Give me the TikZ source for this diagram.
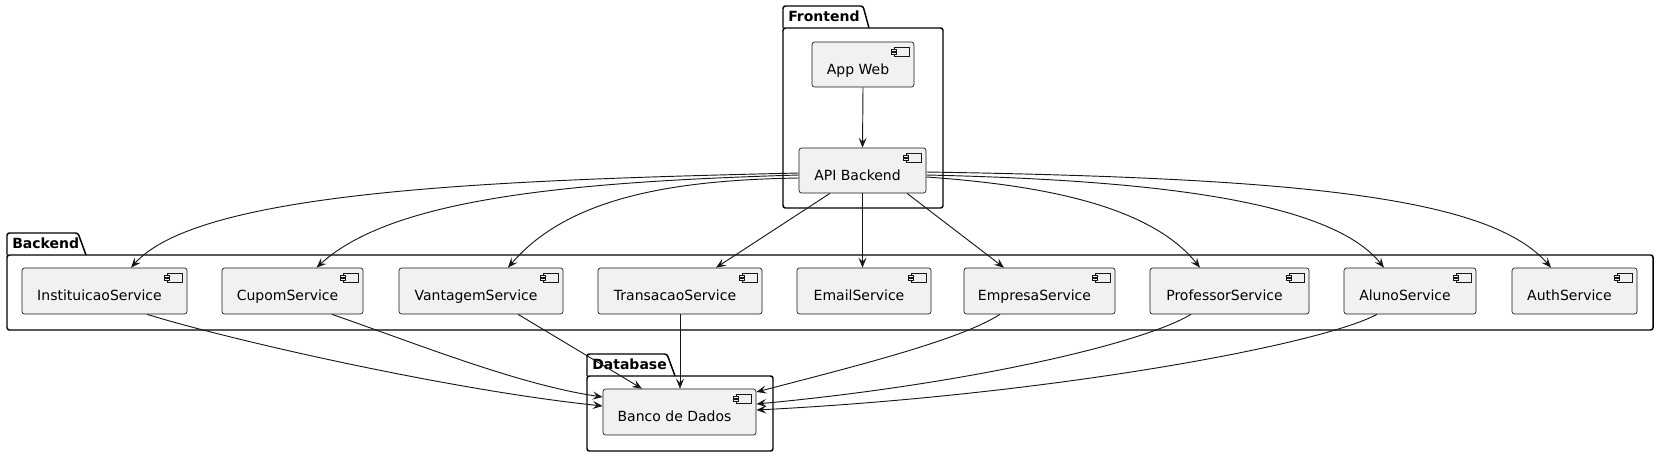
\documentclass[tikz,border=0pt]{standalone}
\usepackage{fontspec}
\setmainfont{DejaVu Sans}
\usetikzlibrary{arrows.meta,calc}
\definecolor{boxfill}{HTML}{F1F1F1}
\definecolor{ink}{HTML}{181818}
\newcommand\lb[1]{#1\kern7.5pt}
\newcommand\compicon[1]{%
  \draw[iconline] ($(#1.north east)+(-20,6)$) rectangle ($(#1.north east)+(-5,15)$);
  \draw[iconline] ($(#1.north east)+(-23,8)$) rectangle ($(#1.north east)+(-18,10)$);
  \draw[iconline] ($(#1.north east)+(-23,11)$) rectangle ($(#1.north east)+(-18,13)$);}
\begin{document}
\begin{tikzpicture}[x=0.75pt,y=-0.75pt,
  comp/.style={draw=ink, fill=boxfill, line width=0.5pt, rounded corners=1.9pt,
    minimum height=34.5pt, inner sep=0pt, text height=14.7pt, text depth=0pt,
    font=\fontsize{10.5pt}{12pt}\selectfont, text=black},
  bw/.style={minimum width=#1*0.75pt},
  iconline/.style={draw=ink, fill=boxfill, line width=0.4pt},
  pkgline/.style={draw=black, line width=1.1pt, rounded corners=1.8pt},
  pkglbl/.style={font=\fontsize{10.5pt}{12pt}\selectfont\bfseries, inner sep=0pt, anchor=base west},
  conn/.style={draw=ink, line width=0.7pt, -{Stealth[length=7.5pt,width=6pt,inset=3pt]}}]
\useasboundingbox (0,0) rectangle (1659,457);

% packages
\draw[pkgline] (783,28) rectangle (943,208);
\draw[pkgline] (783,28) -- (783,6) -- (863,6) -- (869,28);
\node[pkglbl] (fronttitle) at (788,21) {Frontend};

\draw[pkgline] (7,255) rectangle (1653,330);
\draw[pkgline] (7,255) -- (7,233) -- (78,233) -- (86,255);
\node[pkglbl] (backtitle) at (12,248) {Backend};

\draw[pkgline] (587,376) rectangle (773,451);
\draw[pkgline] (587,376) -- (587,354) -- (667,354) -- (675,376);
\node[pkglbl] (dbtitle) at (592,369) {Database};

% components
\node[comp, bw=102, minimum height=33.75pt] (appweb) at (863,64.5) {\lb{App Web}};
\node[comp, bw=127, minimum height=33.75pt] (api) at (862.5,170.5) {\lb{API Backend}};

\node[comp, bw=165] (inst) at (104.5,291) {\lb{InstituicaoService}};
\node[comp, bw=141] (cupom) at (292.5,291) {\lb{CupomService}};
\node[comp, bw=164] (vantagem) at (481,291) {\lb{VantagemService}};
\node[comp, bw=164] (transacao) at (680,291) {\lb{TransacaoService}};
\node[comp, bw=134] (email) at (864,291) {\lb{EmailService}};
\node[comp, bw=151] (empresa) at (1039.5,291) {\lb{EmpresaService}};
\node[comp, bw=159] (professor) at (1229.5,291) {\lb{ProfessorService}};
\node[comp, bw=132] (aluno) at (1410,291) {\lb{AlunoService}};
\node[comp, bw=125] (auth) at (1574.5,291) {\lb{AuthService}};

\node[comp, bw=153] (banco) at (679.5,412) {\lb{Banco de Dados}};

\foreach \n in {appweb,api,inst,cupom,vantagem,transacao,email,empresa,professor,aluno,auth,banco}{\compicon{\n}}

% connectors frontend
\draw[conn] (appweb.south) -- (api.north);

% API -> services (left)
\draw[conn] ($(api.west)+(0,2.5)$) .. controls (500,180) and (200,190) .. ($(inst.north)+(26.5,0)$);
\draw[conn] ($(api.west)+(0,4.5)$) .. controls (560,182) and (390,200) .. ($(cupom.north)+(24,0)$);
\draw[conn] ($(api.west)+(0,7.5)$) .. controls (680,180) and (570,195) .. ($(vantagem.north)+(27,0)$);
\draw[conn] ($(api.south)+(-32.5,0)$) -- ($(transacao.north)+(36,0)$);
\draw[conn] (api.south) -- (api.south |- email.north);
\draw[conn] ($(api.south)+(44.5,0)$) -- ($(empresa.north)+(-35.5,0)$);
% API -> services (right)
\draw[conn] ($(api.east)+(0,6.5)$) .. controls (1040,185) and (1150,205) .. ($(professor.north)+(-29.5,0)$);
\draw[conn] ($(api.east)+(0,4.5)$) .. controls (1150,180) and (1330,200) .. ($(aluno.north)+(-26,0)$);
\draw[conn] ($(api.east)+(0,1.5)$) .. controls (1300,178) and (1490,197) .. ($(auth.north)+(-23.5,0)$);

% services -> database
\draw[conn] ($(inst.south)+(42.5,0)$) .. controls (230,340) and (450,390) .. ($(banco.west)+(0,-6)$);
\draw[conn] ($(cupom.south)+(39.5,0)$) .. controls (420,345) and (520,385) .. ($(banco.west)+(0,-15)$);
\draw[conn] ($(vantagem.south)+(37,0)$) -- ($(banco.north)+(-37.5,0)$);
\draw[conn] (transacao.south) -- (transacao.south |- banco.north);
\draw[conn] ($(empresa.south)+(-39.5,0)$) .. controls (960,340) and (860,365) .. ($(banco.east)+(0,-20)$);
\draw[conn] ($(professor.south)+(-38.5,0)$) .. controls (1140,345) and (960,385) .. ($(banco.east)+(0,-8)$);
\draw[conn] ($(aluno.south)+(-33,0)$) .. controls (1320,345) and (1050,395) .. ($(banco.east)+(0,-2)$);
\end{tikzpicture}
\end{document}
